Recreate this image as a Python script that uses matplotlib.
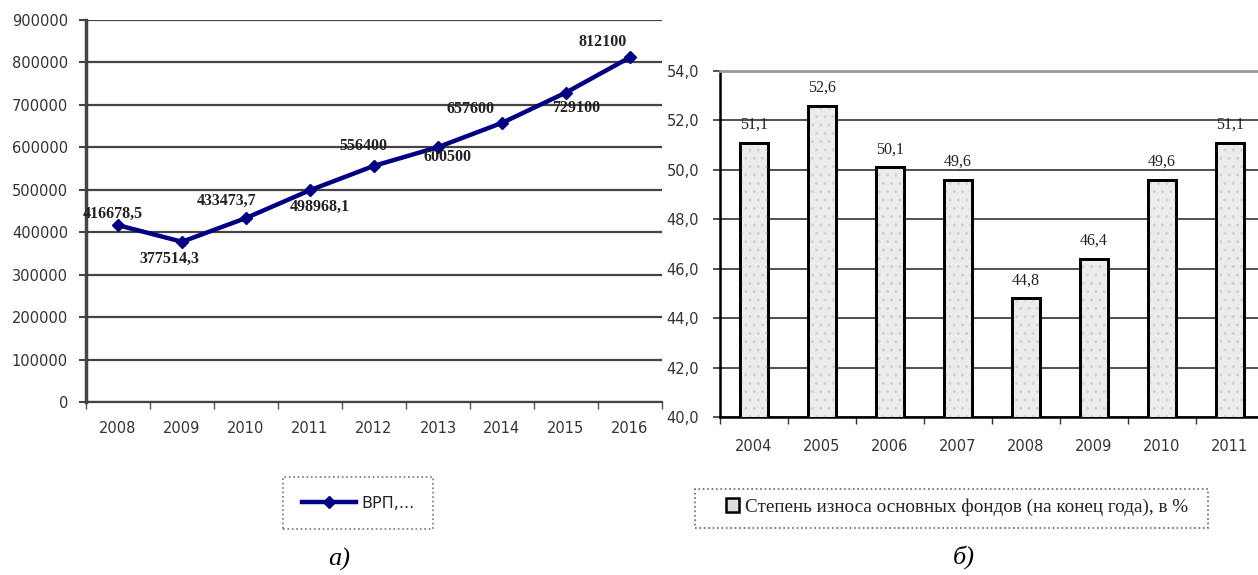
import matplotlib
matplotlib.use("Agg")
import matplotlib.pyplot as plt
from matplotlib.patches import Rectangle
from matplotlib.ticker import FixedLocator, FuncFormatter
import numpy as np

# левый график: ВРП по годам
grp_years = ["2008", "2009", "2010", "2011", "2012", "2013", "2014", "2015", "2016"]
grp_values = [416678.5, 377514.3, 433473.7, 498968.1, 556400, 600500, 657600, 729100, 812100]
grp_label = "ВРП,..."

# правый график: степень износа основных фондов
wear_years = ["2004", "2005", "2006", "2007", "2008", "2009", "2010", "2011"]
wear_values = [51.1, 52.6, 50.1, 49.6, 44.8, 46.4, 49.6, 51.1]
wear_label = "Степень износа основных фондов (на конец года), в %"

# смещения подписей точек (в пунктах)
label_offsets = [(-4, 8), (-9, -12), (-14, 12), (7, -12), (-8, 14),
                 (7, -7), (-23, 10), (7, -11), (-20, 11)]

SANS = "DejaVu Sans"
SERIF = "Liberation Serif"
TICK_COLOR = "#333333"


def fmt_num(v):
    if float(v).is_integer():
        return str(int(v))
    return str(v).replace(".", ",")


fig = plt.figure(figsize=(12.58, 5.75), dpi=100)

# ---------- а) линия ----------
ax1 = fig.add_axes([86 / 1258, 1 - 402 / 575, 576 / 1258, 382 / 575])
x1 = np.arange(len(grp_years))
line, = ax1.plot(x1, grp_values, color="#000080", lw=3.2, marker="D", ms=6,
                 label=grp_label, zorder=5)
for xi, v, (dx, dy) in zip(x1, grp_values, label_offsets):
    ax1.annotate(fmt_num(v), (xi, v), xytext=(dx, dy), textcoords="offset points",
                 ha="center", va="center", fontsize=11.5, family=SERIF,
                 fontweight="bold", color="#222222", zorder=6)

ax1.set_xlim(-0.5, len(grp_years) - 0.5)
ax1.set_ylim(0, 900000)
ax1.set_yticks(np.arange(0, 900001, 100000))
ax1.yaxis.set_major_formatter(FuncFormatter(lambda v, p: "%d" % v))
ax1.set_xticks(x1)
ax1.set_xticklabels(grp_years)
ax1.xaxis.set_minor_locator(FixedLocator(np.arange(-0.5, len(grp_years), 1.0)))
ax1.tick_params(axis="x", which="major", length=0, pad=14, labelsize=10.5,
                labelcolor=TICK_COLOR)
ax1.tick_params(axis="x", which="minor", length=5, width=1, color="#555555")
ax1.tick_params(axis="y", length=5, width=1.5, color="#444444", pad=8,
                labelsize=10.5, labelcolor=TICK_COLOR)
for lab in ax1.get_xticklabels() + ax1.get_yticklabels():
    lab.set_family(SANS)
ax1.grid(axis="y", color="#444444", lw=1.6)
ax1.set_axisbelow(True)
for s in ["top", "right"]:
    ax1.spines[s].set_visible(False)
ax1.spines["left"].set_color("#444444")
ax1.spines["left"].set_linewidth(2.5)
ax1.spines["bottom"].set_color("#444444")
ax1.spines["bottom"].set_linewidth(1.6)

leg1 = ax1.legend(handles=[line], loc="center", bbox_to_anchor=(358 / 1258, 1 - 503 / 575),
                  bbox_transform=fig.transFigure, fancybox=False, framealpha=1,
                  edgecolor="#777777", handlelength=3.4, handletextpad=0.3,
                  borderpad=1.15, prop={"family": SANS, "size": 11.5})
leg1.get_frame().set_linestyle(":")
leg1.get_frame().set_linewidth(1.2)
for t in leg1.get_texts():
    t.set_color("#222222")

# ---------- б) столбцы ----------
ax2 = fig.add_axes([720 / 1258, 1 - 417 / 575, 544 / 1258, 346 / 575])
x2 = np.arange(len(wear_years))
ax2.bar(x2, wear_values, width=0.4, color="#ececec", edgecolor="black",
        lw=2, zorder=3)
ax2.bar(x2, wear_values, width=0.4, color="none", edgecolor="#d2d2d2", lw=0,
        hatch="..", zorder=3.5)
ax2.bar(x2, wear_values, width=0.4, color="none", edgecolor="black", lw=2, zorder=4)
for xi, v in zip(x2, wear_values):
    ax2.annotate(fmt_num(v), (xi, v), xytext=(0, 7), textcoords="offset points",
                 ha="center", va="bottom", fontsize=11.5, family=SERIF, color="#222222")

ax2.set_xlim(-0.5, len(wear_years) - 0.5)
ax2.set_ylim(40, 54)
ax2.set_yticks(np.arange(40, 54.1, 2))
ax2.yaxis.set_major_formatter(FuncFormatter(lambda v, p: ("%.1f" % v).replace(".", ",")))
ax2.set_xticks(x2)
ax2.set_xticklabels(wear_years)
ax2.xaxis.set_minor_locator(FixedLocator(np.arange(-0.5, len(wear_years), 1.0)))
ax2.tick_params(axis="x", which="major", length=0, pad=16, labelsize=10.5,
                labelcolor=TICK_COLOR)
ax2.tick_params(axis="x", which="minor", length=5, width=1, color="#333333")
ax2.tick_params(axis="y", length=5, width=1.2, color="#333333", pad=10,
                labelsize=10.5, labelcolor=TICK_COLOR)
for lab in ax2.get_xticklabels() + ax2.get_yticklabels():
    lab.set_family(SANS)
ax2.grid(axis="y", color="#333333", lw=1.2)
ax2.set_axisbelow(True)
ax2.spines["right"].set_visible(False)
ax2.spines["top"].set_color("#999999")
ax2.spines["top"].set_linewidth(2)
ax2.spines["left"].set_color("black")
ax2.spines["left"].set_linewidth(1.8)
ax2.spines["bottom"].set_color("black")
ax2.spines["bottom"].set_linewidth(1.8)

# легенда без рамки + отдельная пунктирная рамка (она шире содержимого)
sq = Rectangle((0, 0), 1, 1, facecolor="#dddddd", edgecolor="black", lw=1.8)
leg2 = ax2.legend(handles=[sq], labels=[wear_label], loc="center",
                  bbox_to_anchor=(957 / 1258, 1 - 507 / 575),
                  bbox_transform=fig.transFigure, frameon=False,
                  handlelength=0.7, handleheight=0.7,
                  handletextpad=0.3, borderpad=0, borderaxespad=0,
                  prop={"family": SERIF, "size": 13.8})
for t in leg2.get_texts():
    t.set_color("#222222")
fig.patches.append(Rectangle((695 / 1258, 1 - 528 / 575), 513 / 1258, 39 / 575,
                             transform=fig.transFigure, fill=False,
                             edgecolor="#666666", lw=1.2, ls=":"))

# подписи рисунков
fig.text(339 / 1258, 1 - 559 / 575, "а)", ha="center", va="center", fontsize=19,
         family=SERIF, style="italic")
fig.text(964 / 1258, 1 - 557 / 575, "б)", ha="center", va="center", fontsize=19,
         family=SERIF, style="italic")

fig.savefig("out.png", dpi=100)
